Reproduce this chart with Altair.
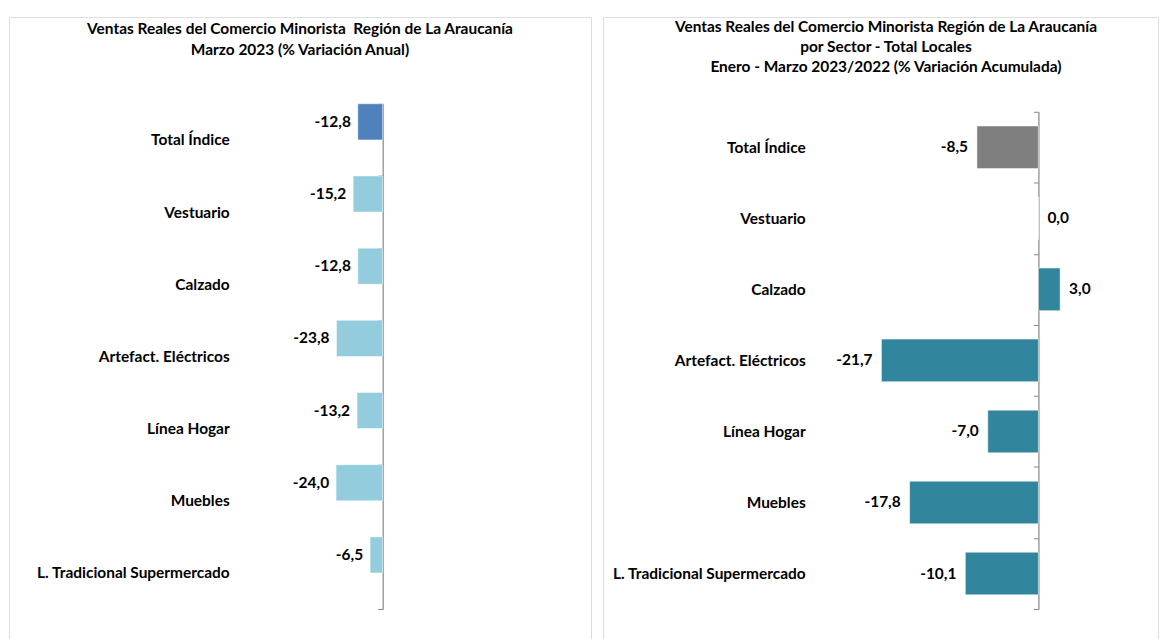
import altair as alt
import pandas as pd

categories = ["Total Índice", "Vestuario", "Calzado", "Artefact. Eléctricos",
              "Línea Hogar", "Muebles", "L. Tradicional Supermercado"]
var_anual = [-12.8, -15.2, -12.8, -23.8, -13.2, -24.0, -6.5]
var_acum = [-8.5, 0.0, 3.0, -21.7, -7.0, -17.8, -10.1]
groups = ["total", "sector", "sector", "sector", "sector", "sector", "sector"]

title_left = ["Ventas Reales del Comercio Minorista\u00a0 Región de La Araucanía",
              "Marzo 2023 (% Variación Anual)"]
title_right = ["Ventas Reales del Comercio Minorista Región de La Araucanía",
               "por Sector - Total Locales",
               "Enero - Marzo 2023/2022 (% Variación Acumulada)"]

def lab(v):
    return f"{v:.1f}".replace(".", ",")

df_left = pd.DataFrame({"cat": categories, "v": var_anual, "gl": groups,
                        "s": ["a"] * len(categories),
                        "lab": [lab(v) for v in var_anual]})
df_right = pd.DataFrame({"cat2": categories, "w": var_acum, "gr": groups,
                         "lab": [lab(v) for v in var_acum]})

FONT = "Lato"
FS = 15.5
GRAY = "#868686"

def yaxis(offset, pad):
    return alt.Axis(title=None, orient="left", offset=offset, tickBand="extent",
                    tickSize=5, tickColor=GRAY, domainColor=GRAY, domainWidth=1.2,
                    labelPadding=pad, labelFont=FONT, labelFontWeight="bold",
                    labelFontSize=FS, labelColor="black", labelLimit=400)

def title_layers(lines, x, y0, lh):
    out = []
    for i, line in enumerate(lines):
        out.append(alt.Chart(pd.DataFrame({"t": [line]})).mark_text(
            align="center", baseline="middle", font=FONT, fontSize=FS,
            fontWeight="bold", color="black").encode(
            text="t:N", x=alt.value(x), y=alt.value(y0 + i * lh)))
    return out

# ---------- left panel ----------
yl = alt.Y("cat:N", sort=categories,
           scale=alt.Scale(domain=categories, range=[87, 594], paddingInner=0, paddingOuter=0),
           axis=yaxis(-375, 149))
xl = alt.X("v:Q", scale=alt.Scale(domain=[-70, 0], range=[238.5, 375], nice=False), axis=None)
yoff = alt.YOffset("s:N", scale=alt.Scale(domain=["a", "b"], paddingInner=0, paddingOuter=0))
col_l = alt.Color("gl:N", scale=alt.Scale(domain=["total", "sector"], range=["#4F81BD", "#93CDDD"]),
                  legend=None)

base_l = alt.Chart(df_left)
bars_l = base_l.mark_bar(stroke="#ffffff", strokeWidth=0.5).encode(
    y=yl, x=xl, x2=alt.datum(0), yOffset=yoff, color=col_l)
text_l = base_l.mark_text(align="right", baseline="middle", dx=-7, font=FONT,
                          fontWeight="bold", fontSize=FS, color="black").encode(
    y=yl, x=xl, yOffset=yoff, text="lab:N")
left = alt.layer(bars_l, text_l, *title_layers(title_left, 292, 12, 21)).properties(
    width=584, height=640)

# ---------- right panel ----------
yr = alt.Y("cat2:N", sort=categories,
           scale=alt.Scale(domain=categories, range=[95, 594], paddingInner=0, paddingOuter=0),
           axis=yaxis(-437, 229))
xr = alt.X("w:Q", scale=alt.Scale(domain=[-30, 5], range=[219.2, 473.3], nice=False), axis=None)
col_r = alt.Color("gr:N", scale=alt.Scale(domain=["total", "sector"], range=["#7F7F7F", "#31859C"]),
                  legend=None)

base_r = alt.Chart(df_right)
bars_r = base_r.mark_bar(height=alt.RelativeBandSize(0.6), stroke="#ffffff", strokeWidth=0.5).encode(
    y=yr, x=xr, x2=alt.datum(0), color=col_r)
text_neg = base_r.transform_filter("datum.w < 0").mark_text(
    align="right", baseline="middle", dx=-9, font=FONT, fontWeight="bold",
    fontSize=FS, color="black").encode(y=yr, x=xr, text="lab:N")
text_pos = base_r.transform_filter("datum.w >= 0").mark_text(
    align="left", baseline="middle", dx=9, font=FONT, fontWeight="bold",
    fontSize=FS, color="black").encode(y=yr, x=xr, text="lab:N")
right = alt.layer(bars_r, text_neg, text_pos, *title_layers(title_right, 284, 10, 20)).properties(
    width=557, height=640)

chart = alt.hconcat(left, right, spacing=10).resolve_scale(
    x="independent", y="independent", color="independent").properties(
    padding=0).configure_view(stroke=GRAY, strokeWidth=1.5).configure(background="white")

chart.save("out.html", embed_options={"renderer": "svg", "actions": False})
